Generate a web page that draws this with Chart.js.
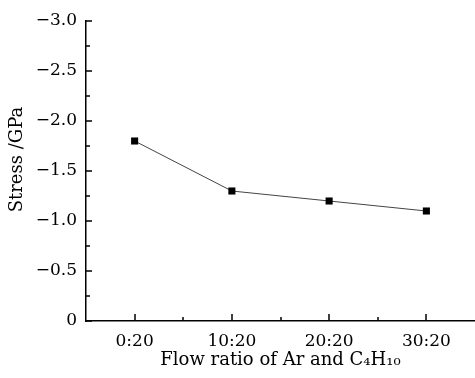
<!DOCTYPE html>
<html>
<head>
<meta charset="utf-8">
<script src="https://cdn.jsdelivr.net/npm/chart.js@4"></script>
<style>
  html, body { margin: 0; padding: 0; background: #fff; }
  #wrap { width: 475px; height: 378px; }
</style>
</head>
<body>
<div id="wrap"><canvas id="stressChart"></canvas></div>
<script>
// data
const flowRatios = ['0:20', '10:20', '20:20', '30:20'];
const stress = [-1.8, -1.3, -1.2, -1.1];
const yTickValues = [-3.0, -2.5, -2.0, -1.5, -1.0, -0.5, 0];
const yMinorValues = [-2.75, -2.25, -1.75, -1.25, -0.75, -0.25];

const serif = "'DejaVu Serif', serif";

function fmtStress(v) {
  if (v === 0) return '0';
  return '\u2212' + Math.abs(v).toFixed(1);
}

// ticks pointing inwards, major + minor
const inwardTicks = {
  id: 'inwardTicks',
  afterDatasetsDraw(chart) {
    const ctx = chart.ctx;
    const x = chart.scales.x;
    const y = chart.scales.y;
    const left = chart.chartArea.left;
    const bottom = chart.chartArea.bottom;
    ctx.save();
    ctx.strokeStyle = '#000';
    ctx.lineWidth = 1.5;
    ctx.beginPath();
    yTickValues.forEach(v => {
      const py = Math.round(y.getPixelForValue(v));
      ctx.moveTo(left, py);
      ctx.lineTo(left + 6, py);
    });
    yMinorValues.forEach(v => {
      const py = Math.round(y.getPixelForValue(v));
      ctx.moveTo(left, py);
      ctx.lineTo(left + 4, py);
    });
    flowRatios.forEach((c, i) => {
      const px = Math.round(x.getPixelForValue(i));
      ctx.moveTo(px, bottom);
      ctx.lineTo(px, bottom - 7);
      if (i < flowRatios.length - 1) {
        const pm = Math.round(x.getPixelForValue(i + 0.5));
        ctx.moveTo(pm, bottom);
        ctx.lineTo(pm, bottom - 4);
      }
    });
    ctx.stroke();
    ctx.restore();
  }
};

new Chart(document.getElementById('stressChart'), {
  type: 'line',
  data: {
    labels: flowRatios,
    datasets: [{
      label: 'Stress',
      data: stress,
      borderColor: '#444',
      borderWidth: 1,
      pointStyle: 'rect',
      pointRadius: 5,
      pointBackgroundColor: '#000',
      pointBorderColor: '#000',
      pointBorderWidth: 0,
      clip: false,
      tension: 0
    }]
  },
  plugins: [inwardTicks],
  options: {
    responsive: true,
    maintainAspectRatio: false,
    animation: false,
    layout: { autoPadding: false, padding: { top: 21, right: -4, bottom: 7, left: 7 } },
    plugins: {
      legend: { display: false },
      tooltip: { enabled: false }
    },
    scales: {
      x: {
        type: 'category',
        offset: true,
        grid: { display: false, drawTicks: false },
        border: { display: true, color: '#000', width: 1.5 },
        ticks: {
          color: '#000',
          padding: 10,
          maxRotation: 0,
          font: { family: serif, size: 17 }
        },
        title: {
          display: true,
          text: 'Flow ratio of Ar and C\u2084H\u2081\u2080',
          color: '#000',
          padding: { top: 0, bottom: 0 },
          font: { family: serif, size: 18 }
        },
        afterFit(s) { s.height = 50; }
      },
      y: {
        type: 'linear',
        min: -3,
        max: 0,
        reverse: true,
        grid: { display: false, drawTicks: false },
        border: { display: true, color: '#000', width: 1.5 },
        afterBuildTicks(s) {
          s.ticks = yTickValues.map(v => ({ value: v }));
        },
        ticks: {
          color: '#000',
          padding: 9,
          font: { family: serif, size: 17 },
          callback: v => fmtStress(v)
        },
        title: {
          display: true,
          // leading spaces nudge the label up a bit, like the original
          text: '    Stress /GPa',
          color: '#000',
          padding: { top: 0, bottom: 0 },
          font: { family: serif, size: 18 }
        },
        afterFit(s) { s.width = 79; }
      }
    }
  }
});
</script>
</body>
</html>
